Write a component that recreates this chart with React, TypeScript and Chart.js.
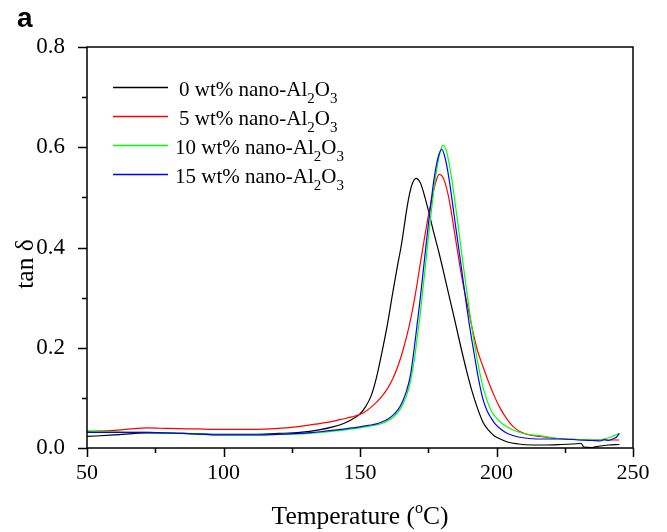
import React, { useEffect, useRef } from "react";
import { Chart, registerables } from "chart.js";

Chart.register(...registerables);

// ---- Data ----
const T_0 = [50, 60, 72, 85, 100, 110, 120, 128, 135, 140, 144, 147, 150, 152, 154, 156, 158, 160, 162, 164, 165, 166, 167, 168, 169, 170.5, 172, 173, 175, 177, 179, 181, 183, 185, 187, 189, 191, 193, 195, 197, 199, 201, 204, 208, 213, 218, 224, 228, 231, 232, 235, 238, 241, 245];
const V_0 = [0.023, 0.026, 0.030, 0.029, 0.027, 0.027, 0.029, 0.031, 0.036, 0.042, 0.049, 0.057, 0.068, 0.082, 0.103, 0.140, 0.190, 0.245, 0.310, 0.372, 0.400, 0.435, 0.472, 0.503, 0.525, 0.538, 0.530, 0.515, 0.475, 0.430, 0.388, 0.342, 0.295, 0.248, 0.200, 0.155, 0.114, 0.080, 0.052, 0.036, 0.025, 0.019, 0.012, 0.008, 0.006, 0.006, 0.007, 0.008, 0.009, 0.002, 0.001, 0.004, 0.006, 0.007];

const T_5 = [50, 60, 66, 72, 80, 90, 100, 110, 120, 128, 133, 138, 143, 147, 150, 152, 154, 156, 158, 160, 162, 164, 166, 168, 170, 172, 173.5, 175, 176.5, 178, 179, 180, 181, 182.5, 184, 185.5, 187, 188.5, 190, 191.5, 193, 195, 197, 199, 201, 203.5, 206, 208.5, 212, 216, 220, 225, 230, 235, 240, 245];
const V_5 = [0.033, 0.035, 0.038, 0.040, 0.039, 0.038, 0.037, 0.037, 0.039, 0.043, 0.047, 0.051, 0.057, 0.062, 0.067, 0.073, 0.081, 0.091, 0.103, 0.118, 0.138, 0.165, 0.200, 0.243, 0.298, 0.365, 0.415, 0.462, 0.502, 0.535, 0.546, 0.543, 0.532, 0.500, 0.452, 0.400, 0.350, 0.307, 0.268, 0.229, 0.195, 0.163, 0.133, 0.106, 0.083, 0.060, 0.043, 0.033, 0.026, 0.023, 0.020, 0.018, 0.017, 0.016, 0.016, 0.016];

const T_10 = [50, 60, 72, 85, 100, 110, 120, 128, 133, 138, 143, 147, 150, 153, 156, 158, 160, 162, 164, 165.5, 167, 168.5, 170, 171, 172, 173, 174, 175, 176, 177, 178, 179, 180, 180.5, 181.5, 182.5, 183.5, 184.5, 185.5, 186.5, 187.5, 188.5, 189.5, 190.5, 191.5, 192.5, 193.5, 194.5, 195.5, 197, 198.5, 200, 202, 205, 208, 211, 215, 217, 220, 225, 230, 235, 238, 240, 242, 244, 245];
const V_10 = [0.034, 0.032, 0.031, 0.029, 0.026, 0.026, 0.027, 0.028, 0.030, 0.032, 0.035, 0.038, 0.040, 0.043, 0.046, 0.049, 0.054, 0.061, 0.072, 0.085, 0.104, 0.133, 0.180, 0.222, 0.265, 0.315, 0.365, 0.418, 0.466, 0.513, 0.553, 0.582, 0.601, 0.604, 0.595, 0.572, 0.540, 0.503, 0.462, 0.420, 0.378, 0.337, 0.297, 0.258, 0.222, 0.190, 0.160, 0.135, 0.113, 0.088, 0.070, 0.060, 0.049, 0.039, 0.032, 0.028, 0.025, 0.024, 0.021, 0.018, 0.017, 0.016, 0.016, 0.019, 0.022, 0.027, 0.029];

const T_15 = [50, 60, 72, 85, 100, 110, 120, 128, 133, 138, 143, 147, 150, 153, 156, 158, 160, 162, 164, 165.5, 167, 168.5, 170, 171, 172, 173, 174, 175, 176, 177, 178, 179, 180, 181, 182, 183, 184, 185, 186, 187, 188, 189, 190, 191, 192, 193, 194, 195, 196.5, 198, 199.5, 201.5, 204, 208, 212, 218, 224, 230, 235, 238, 239.5, 241, 243, 244, 245];
const V_15 = [0.031, 0.031, 0.031, 0.029, 0.026, 0.026, 0.027, 0.029, 0.031, 0.034, 0.037, 0.040, 0.042, 0.045, 0.048, 0.052, 0.057, 0.065, 0.077, 0.092, 0.113, 0.146, 0.205, 0.250, 0.295, 0.345, 0.395, 0.445, 0.490, 0.532, 0.565, 0.587, 0.596, 0.582, 0.557, 0.523, 0.484, 0.443, 0.405, 0.365, 0.325, 0.285, 0.248, 0.214, 0.182, 0.150, 0.122, 0.098, 0.075, 0.060, 0.048, 0.038, 0.029, 0.022, 0.019, 0.018, 0.018, 0.016, 0.015, 0.014, 0.017, 0.015, 0.019, 0.022, 0.029];

const SERIES_LABELS = ["0 wt% nano-Al2O3", "5 wt% nano-Al2O3", "10 wt% nano-Al2O3", "15 wt% nano-Al2O3"];
const SERIES_COLORS = ["#000000", "#ff0000", "#00ff00", "#0000ff"];

const X_MAJOR = [50, 100, 150, 200, 250];
const X_MINOR = [75, 125, 175, 225];
const Y_MAJOR = [0, 0.2, 0.4, 0.6, 0.8];
const Y_MINOR = [0.1, 0.3, 0.5, 0.7];

const X_TITLE = ["Temperature (", "o", "C)"];
const Y_TITLE = "tan δ";
const PANEL_LABEL = "a";

const SERIF = "'Liberation Serif', 'Times New Roman', serif";

function zip(t: number[], v: number[]) {
  return t.map((x, i) => ({ x, y: v[i] }));
}

function splitChem(label: string) {
  // "... Al2O3" -> subscript the 2 and 3
  const m = label.match(/^(.*Al)(2)(O)(3)$/);
  if (!m) return [{ t: label, sub: false }];
  return [
    { t: m[1], sub: false },
    { t: m[2], sub: true },
    { t: m[3], sub: false },
    { t: m[4], sub: true },
  ];
}

const decorPlugin = {
  id: "decor",
  afterDraw(chart: any) {
    const { ctx, chartArea: a, scales } = chart;
    const xs = scales.x;
    const ys = scales.y;
    ctx.save();
    // frame
    ctx.strokeStyle = "#000";
    ctx.lineWidth = 1.5;
    ctx.strokeRect(a.left, a.top, a.right - a.left, a.bottom - a.top);
    // ticks
    ctx.beginPath();
    for (const v of X_MAJOR) {
      const p = Math.round(xs.getPixelForValue(v)) + 0.5;
      ctx.moveTo(p, a.bottom);
      ctx.lineTo(p, a.bottom + 9);
    }
    for (const v of X_MINOR) {
      const p = Math.round(xs.getPixelForValue(v)) + 0.5;
      ctx.moveTo(p, a.bottom);
      ctx.lineTo(p, a.bottom + 5);
    }
    for (const v of Y_MAJOR) {
      const p = Math.round(ys.getPixelForValue(v)) + 0.5;
      ctx.moveTo(a.left, p);
      ctx.lineTo(a.left - 9, p);
    }
    for (const v of Y_MINOR) {
      const p = Math.round(ys.getPixelForValue(v)) + 0.5;
      ctx.moveTo(a.left, p);
      ctx.lineTo(a.left - 5, p);
    }
    ctx.stroke();

    ctx.fillStyle = "#000";
    // x title with superscript o
    const big = 25.5;
    const small = 16;
    const fBig = `${big}px ${SERIF}`;
    const fSmall = `${small}px ${SERIF}`;
    ctx.font = fBig;
    const w1 = ctx.measureText(X_TITLE[0]).width;
    const w3 = ctx.measureText(X_TITLE[2]).width;
    ctx.font = fSmall;
    const w2 = ctx.measureText(X_TITLE[1]).width;
    const total = w1 + w2 + w3;
    const cx = (a.left + a.right) / 2;
    let xx = cx - total / 2;
    const by = 524;
    ctx.textBaseline = "alphabetic";
    ctx.textAlign = "left";
    ctx.font = fBig;
    ctx.fillText(X_TITLE[0], xx, by);
    xx += w1;
    ctx.font = fSmall;
    ctx.fillText(X_TITLE[1], xx, by - 11);
    xx += w2;
    ctx.font = fBig;
    ctx.fillText(X_TITLE[2], xx, by);

    // y title
    ctx.save();
    ctx.translate(33, 264);
    ctx.rotate(-Math.PI / 2);
    ctx.font = fBig;
    ctx.textAlign = "center";
    ctx.textBaseline = "alphabetic";
    ctx.fillText(Y_TITLE, 0, 0);
    ctx.restore();

    // panel label
    ctx.font = `bold 28px 'Liberation Sans', Arial, sans-serif`;
    ctx.textAlign = "left";
    ctx.textBaseline = "alphabetic";
    ctx.fillText(PANEL_LABEL, 17, 27);

    // legend
    const lx0 = 113;
    const lx1 = 168;
    const ly0 = 87;
    const dy = 29;
    SERIES_LABELS.forEach((label, i) => {
      const ly = ly0 + i * dy;
      ctx.strokeStyle = SERIES_COLORS[i];
      ctx.lineWidth = 1.3;
      ctx.beginPath();
      ctx.moveTo(lx0, ly + 0.5);
      ctx.lineTo(lx1, ly + 0.5);
      ctx.stroke();
      let tx = label.startsWith("1") ? 175 : 179;
      for (const seg of splitChem(label)) {
        if (seg.sub) {
          ctx.font = `15px ${SERIF}`;
          ctx.fillText(seg.t, tx, ly + 15.5);
        } else {
          ctx.font = `21px ${SERIF}`;
          ctx.fillText(seg.t, tx, ly + 8.5);
        }
        tx += ctx.measureText(seg.t).width;
      }
    });
    ctx.restore();
  },
};

export default function App() {
  const canvasRef = useRef<HTMLCanvasElement | null>(null);

  useEffect(() => {
    const canvas = canvasRef.current;
    if (!canvas) return;
    const seriesT = [T_0, T_5, T_10, T_15];
    const seriesV = [V_0, V_5, V_10, V_15];
    const datasets = SERIES_LABELS.map((label, i) => ({
      label,
      data: zip(seriesT[i], seriesV[i]),
      borderColor: SERIES_COLORS[i],
      backgroundColor: SERIES_COLORS[i],
      borderWidth: 1.2,
      pointRadius: 0,
      fill: false,
      cubicInterpolationMode: "monotone" as const,
      order: 3 - i,
    }));
    const chart = new Chart(canvas, {
      type: "line",
      data: { datasets },
      options: {
        animation: false,
        responsive: false,
        maintainAspectRatio: false,
        layout: { padding: { top: 47, right: 34, left: 0, bottom: 0 } },
        plugins: {
          legend: { display: false },
          tooltip: { enabled: false },
          title: { display: false },
        },
        scales: {
          x: {
            type: "linear",
            min: 50,
            max: 250,
            grid: { display: false },
            border: { display: false },
            ticks: {
              stepSize: 50,
              color: "#000",
              font: { family: SERIF, size: 22 },
              padding: 4,
              maxRotation: 0,
            },
            afterFit: (s: any) => {
              s.height = 84;
            },
          },
          y: {
            type: "linear",
            min: 0,
            max: 0.8,
            grid: { display: false },
            border: { display: false },
            ticks: {
              stepSize: 0.2,
              color: "#000",
              font: { family: SERIF, size: 23 },
              padding: 14,
              callback: (v: any) => Number(v).toFixed(1),
            },
            afterFit: (s: any) => {
              s.width = 87;
            },
          },
        },
      },
      plugins: [decorPlugin],
    });
    return () => chart.destroy();
  }, []);

  return (
    <div style={{ position: "absolute", left: 0, top: 0, width: 667, height: 532, background: "#fff" }}>
      <canvas ref={canvasRef} width={667} height={532} style={{ display: "block" }} />
    </div>
  );
}
